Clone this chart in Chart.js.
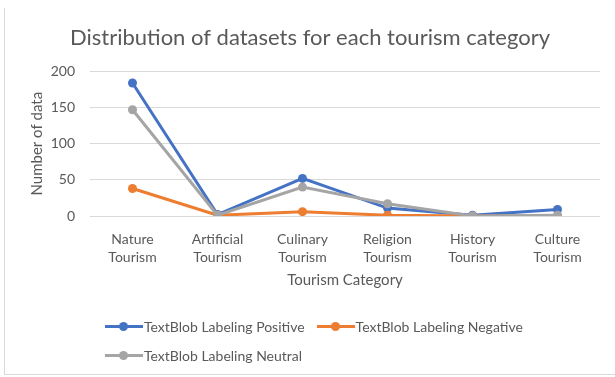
<!DOCTYPE html>
<html>
<head>
<meta charset="utf-8">
<script src="https://cdn.jsdelivr.net/npm/chart.js@4/dist/chart.umd.min.js"></script>
<style>
	html, body { margin: 0; padding: 0; background: #fff; overflow: hidden; }
	#wrap { position: relative; width: 615px; height: 377px; }
	#frame { position: absolute; left: 4px; top: 8px; width: 640px; height: 366px; border-left: 1px solid #d9d9d9; border-bottom: 1px solid #d9d9d9; }
	#myChart { position: absolute; left: 0; top: 0; }
	#legend { position: absolute; left: 105px; top: 312px; width: 440px; display: flex; flex-wrap: wrap; font: 14px Lato, sans-serif; color: #595959; }
	.item { display: flex; align-items: center; height: 29px; margin-right: 12px; white-space: nowrap; }
	.mark { position: relative; width: 38px; height: 20px; margin-right: 1px; }
	.mark .ln { position: absolute; left: 0; right: 0; top: 8.5px; height: 3px; }
	.mark .dot { position: absolute; left: 14px; top: 5.5px; width: 9px; height: 9px; border-radius: 50%; }
</style>
</head>
<body>
<div id="wrap">
	<div id="frame"></div>
	<canvas id="myChart" width="615" height="377"></canvas>
	<div id="legend"></div>
</div>
<script>
const categories = [
	['Nature', 'Tourism'],
	['Artificial', 'Tourism'],
	['Culinary', 'Tourism'],
	['Religion', 'Tourism'],
	['History', 'Tourism'],
	['Culture', 'Tourism']
];

const positive = [184, 2, 52, 11, 1, 9];
const negative = [38, 1, 6, 1, 0, 0];
const neutral = [147, 1, 40, 17, 0, 1];

const seriesNames = ['TextBlob Labeling Positive', 'TextBlob Labeling Negative', 'TextBlob Labeling Neutral'];
const seriesColors = ['#4472C4', '#ED7D31', '#A5A5A5'];

const TEXT = '#595959';
const FONT = 'Lato, sans-serif';

const CANVAS = document.getElementById('myChart');

// legend lives in html underneath the canvas
const htmlLegend = {
	id: 'htmlLegend',
	afterUpdate(chart) {
		const box = document.getElementById('legend');
		box.innerHTML = '';
		chart.data.datasets.forEach(ds => {
			const item = document.createElement('div');
			item.className = 'item';
			item.innerHTML = `<div class="mark"><div class="ln" style="background:${ds.borderColor}"></div><div class="dot" style="background:${ds.borderColor}"></div></div><span>${ds.label}</span>`;
			box.appendChild(item);
		});
	}
};

const makeSet = (i, data, order) => ({
	label: seriesNames[i],
	data,
	order,
	borderColor: seriesColors[i],
	backgroundColor: seriesColors[i],
	borderWidth: 3,
	pointRadius: 4.5,
	pointBorderWidth: 0,
	tension: 0
});

new Chart(CANVAS, {
	type: 'line',
	data: {
		labels: categories,
		datasets: [
			makeSet(0, positive, 3),
			makeSet(1, negative, 2),
			makeSet(2, neutral, 1)
		]
	},
	plugins: [htmlLegend],
	options: {
		responsive: false,
		animation: false,
		layout: {
			padding: { left: 20, right: 15, top: 0, bottom: 88 }
		},
		scales: {
			x: {
				offset: true,
				grid: { display: false },
				border: { display: false },
				ticks: {
					color: TEXT,
					padding: 6,
					maxRotation: 0,
					autoSkip: false,
					font: { family: FONT, size: 14, lineHeight: 1.3 }
				},
				title: {
					display: true,
					text: 'Tourism Category',
					color: TEXT,
					padding: 0,
					font: { family: FONT, size: 15 }
				},
				afterFit(scale) { scale.height = 73; }
			},
			y: {
				min: 0,
				max: 200,
				grid: { color: '#d9d9d9', drawTicks: false },
				border: { display: false },
				ticks: {
					stepSize: 50,
					color: TEXT,
					padding: 15,
					font: { family: FONT, size: 14 }
				},
				title: {
					display: true,
					text: 'Number of data',
					color: TEXT,
					padding: { top: 8, bottom: 0 },
					font: { family: FONT, size: 15 }
				},
				afterFit(scale) { scale.width = 70; }
			}
		},
		plugins: {
			legend: { display: false },
			tooltip: { enabled: false },
			title: {
				display: true,
				text: 'Distribution of datasets for each tourism category',
				color: TEXT,
				padding: { top: 25, bottom: 20 },
				font: { family: FONT, size: 22, weight: 'normal' }
			}
		}
	}
});
</script>
</body>
</html>
